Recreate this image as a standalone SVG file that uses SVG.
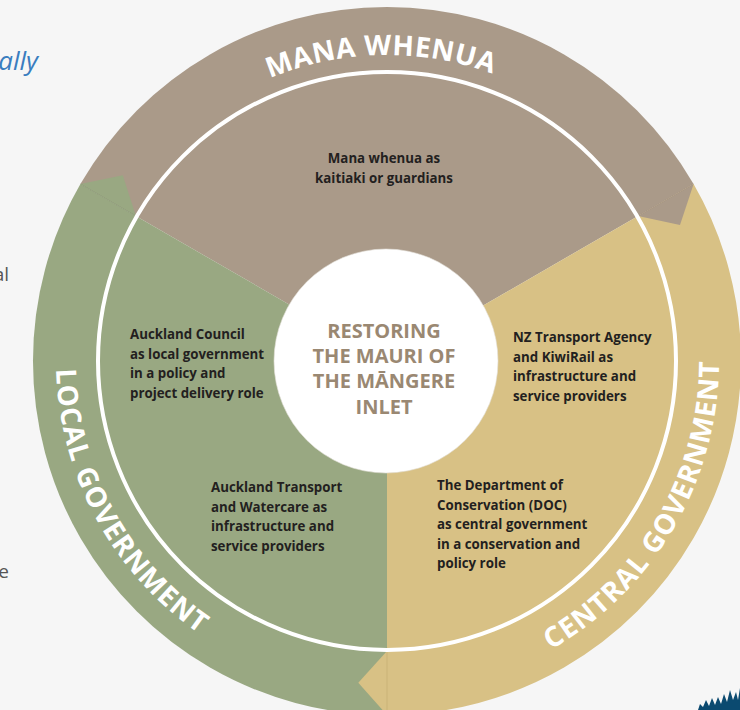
<svg xmlns="http://www.w3.org/2000/svg" width="740" height="710" viewBox="0 0 740 710">
  <style>
    .band-title { font-family: "Open Sans", "Noto Sans", "Liberation Sans", sans-serif; font-weight: 700; font-size: 28px; fill: #ffffff; }
    .body { font-family: "Open Sans", "Noto Sans", "Liberation Sans", sans-serif; font-weight: 700; font-size: 13.3px; fill: #231f20; }
    .center-t { font-family: "Open Sans", "Noto Sans", "Liberation Sans", sans-serif; font-weight: 700; font-size: 20px; fill: #9a8872; text-anchor: middle; }
    .page { font-family: "Open Sans", "Noto Sans", "Liberation Sans", sans-serif; font-size: 19px; fill: #555555; }
    .seam { stroke-width: 0.8; stroke-opacity: 0.35; fill: none; }
  </style>
  <defs>
    <path id="arc-top" d="M185.7,130.6 A306,306 0 0 1 578.9,122.7"/>
    <path id="arc-left" d="M62.7,295 A331,331 0 0 0 265.7,669"/>
    <path id="arc-right" d="M499.4,673.4 A332,332 0 0 0 714.2,304.5"/>
  </defs>

  <rect x="0" y="0" width="740" height="710" fill="#f6f6f6"/>

  <!-- page fragments -->
  <text x="38" y="70" font-family="Open Sans, Noto Sans, Liberation Sans, sans-serif" font-style="italic" font-size="26" fill="#3a7dbf" text-anchor="end">ally</text>
  <text class="page" x="9" y="281" text-anchor="end">al</text>
  <text class="page" x="9" y="578" text-anchor="end">e</text>
  <polygon points="698,710 700,704 703,707 706,700 709,706 712,698 715,705 718,697 721,704 724,694 727,702 730,690 733,700 736,692 738,700 740,688 740,710" fill="#0b4a70"/>

  <g id="sector-mana-whenua">
    <path d="M387,361 L80.4,184 A354,354 0 0 1 693.6,184 Z" fill="#aa9a89"/>
  </g>
  <g id="sector-central-government">
    <path d="M387,361 L693.6,184 A354,354 0 0 1 387,715 Z" fill="#d8c185"/>
  </g>
  <g id="sector-local-government">
    <path d="M387,361 L387,715 A354,354 0 0 1 80.4,184 Z" fill="#99a882"/>
  </g>

  <g id="connectors">
    <polygon points="80.4,184 122.8,175.3 135.9,216" fill="#99a882"/>
    <line class="seam" x1="80.4" y1="184" x2="135.9" y2="216" stroke="#6f7d5c"/>
    <polygon points="693.6,184 680,225 638.1,216" fill="#aa9a89"/>
    <line class="seam" x1="693.6" y1="184" x2="638.1" y2="216" stroke="#8a7a68"/>
    <polygon points="387,651 358.3,682.7 387,715" fill="#d8c185"/>
    <line class="seam" x1="387" y1="651" x2="387" y2="715" stroke="#a8925a"/>
  </g>

  <circle cx="387" cy="361" r="289" fill="none" stroke="#ffffff" stroke-width="4"/>

  <g id="label-mana-whenua">
    <text class="band-title" letter-spacing="0.5"><textPath href="#arc-top" startOffset="50%" text-anchor="middle">MANA WHENUA</textPath></text>
  </g>
  <g id="label-local-government">
    <text class="band-title" letter-spacing="1"><textPath href="#arc-left" startOffset="50%" text-anchor="middle">LOCAL GOVERNMENT</textPath></text>
  </g>
  <g id="label-central-government">
    <text class="band-title" letter-spacing="1"><textPath href="#arc-right" startOffset="50%" text-anchor="middle">CENTRAL GOVERNMENT</textPath></text>
  </g>

  <g id="node-mana-whenua-kaitiaki">
    <text class="body" x="384" y="163" text-anchor="middle">Mana whenua as</text>
    <text class="body" x="384" y="183" text-anchor="middle">kaitiaki or guardians</text>
  </g>
  <g id="node-auckland-council">
    <text class="body" x="130" y="339">Auckland Council</text>
    <text class="body" x="130" y="358.5">as local government</text>
    <text class="body" x="130" y="378">in a policy and</text>
    <text class="body" x="130" y="397.5">project delivery role</text>
  </g>
  <g id="node-auckland-transport">
    <text class="body" x="211" y="492">Auckland Transport</text>
    <text class="body" x="211" y="511.5">and Watercare as</text>
    <text class="body" x="211" y="531">infrastructure and</text>
    <text class="body" x="211" y="550.5">service providers</text>
  </g>
  <g id="node-nzta-kiwirail">
    <text class="body" x="513" y="342">NZ Transport Agency</text>
    <text class="body" x="513" y="361.5">and KiwiRail as</text>
    <text class="body" x="513" y="381">infrastructure and</text>
    <text class="body" x="513" y="400.5">service providers</text>
  </g>
  <g id="node-doc">
    <text class="body" x="437" y="490">The Department of</text>
    <text class="body" x="437" y="509.5">Conservation (DOC)</text>
    <text class="body" x="437" y="529">as central government</text>
    <text class="body" x="437" y="548.5">in a conservation and</text>
    <text class="body" x="437" y="568">policy role</text>
  </g>

  <g id="node-center">
    <circle cx="386" cy="361" r="112" fill="#ffffff" stroke="#e4e0da" stroke-width="0.6"/>
    <text class="center-t" x="384" y="338">RESTORING</text>
    <text class="center-t" x="384" y="363">THE MAURI OF</text>
    <text class="center-t" x="384" y="388">THE MĀNGERE</text>
    <text class="center-t" x="384" y="414">INLET</text>
  </g>
</svg>
